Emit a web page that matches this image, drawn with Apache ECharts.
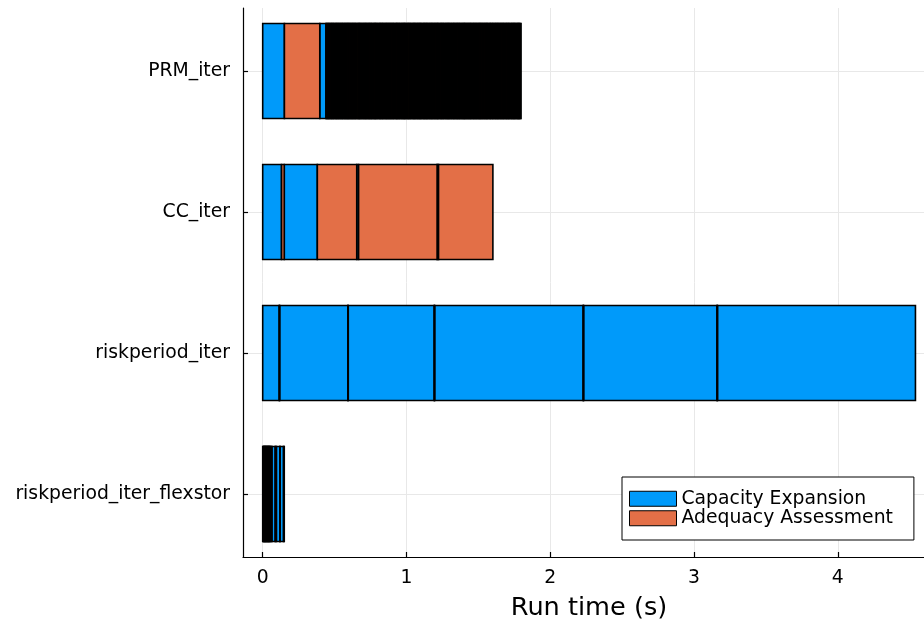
<!DOCTYPE html>
<html>
<head>
<meta charset="utf-8">
<script src="https://cdn.jsdelivr.net/npm/echarts@6/dist/echarts.min.js"></script>
<style>html,body{margin:0;padding:0;background:#fff}#chart{width:924px;height:623px}</style>
</head>
<body>
<div id="chart"></div>
<script>
// Categories (bottom to top, y = 1..4)
const categories = ['riskperiod_iter_flexstor', 'riskperiod_iter', 'CC_iter', 'PRM_iter'];
const seriesNames = ['Capacity Expansion', 'Adequacy Assessment'];
const xTickValues = [0, 1, 2, 3, 4];
const yTickValues = [1, 2, 3, 4];

// Segment durations (s) in run order; segments alternate
// Capacity Expansion, Adequacy Assessment, Capacity Expansion, ...
const flexstorDurations = [
  0.005, 0.004, 0.006, 0.004, 0.005, 0.005, 0.006, 0.004, 0.005, 0.005, 0.006, 0.009,
  0.023, 0.008, 0.024, 0.002, 0.024, 0.005
];
const riskperiodDurations = [0.115, 0.003, 0.474, 0.003, 0.598, 0.003, 1.033, 0.003, 0.928, 0.003, 1.377];
const ccDurations = [0.131, 0.019, 0.230, 0.274, 0.013, 0.546, 0.010, 0.378];
const prmDurations = [
  0.151, 0.246, 0.043,
  0.008, 0.009, 0.007, 0.010, 0.008, 0.009, 0.008, 0.009, 0.008, 0.009,
  0.009, 0.008, 0.009, 0.008, 0.010, 0.007, 0.009, 0.008, 0.008, 0.009,
  0.008, 0.008, 0.009, 0.009, 0.008, 0.010, 0.008, 0.007, 0.009, 0.009,
  0.009, 0.009, 0.008, 0.008, 0.009, 0.008, 0.009, 0.008, 0.009, 0.008,
  0.007, 0.009, 0.010, 0.008, 0.008, 0.009, 0.008, 0.009, 0.009, 0.008,
  0.009, 0.008, 0.008, 0.009, 0.009, 0.008, 0.010, 0.007, 0.008, 0.009,
  0.008, 0.009, 0.009, 0.008, 0.007, 0.009, 0.009, 0.008, 0.009, 0.009,
  0.010, 0.008, 0.008, 0.009, 0.008, 0.009, 0.008, 0.008, 0.009, 0.008,
  0.008, 0.009, 0.008, 0.008, 0.009, 0.009, 0.008, 0.009, 0.008, 0.009,
  0.009, 0.007, 0.009, 0.009, 0.008, 0.009, 0.008, 0.009, 0.009, 0.008,
  0.008, 0.008, 0.009, 0.010, 0.008, 0.008, 0.009, 0.008, 0.009, 0.008,
  0.009, 0.009, 0.008, 0.007, 0.009, 0.008, 0.009, 0.009, 0.008, 0.009,
  0.008, 0.009, 0.009, 0.008, 0.009, 0.008, 0.008, 0.009, 0.008, 0.009,
  0.009, 0.008, 0.008, 0.009, 0.007, 0.010, 0.008, 0.009, 0.008, 0.009,
  0.008, 0.009, 0.008, 0.009, 0.009, 0.008, 0.009, 0.008, 0.009, 0.008,
  0.009, 0.008, 0.009, 0.008, 0.008, 0.009, 0.008, 0.007, 0.008, 0.008
];

const runs = [flexstorDurations, riskperiodDurations, ccDurations, prmDurations];

const COLORS = ['#009AFA', '#E36F47'];
const FONT = 'DejaVu Sans';
const TICK_FS = 18.8;

// Build [start, end, y] items for each series
const segData = [[], []];
runs.forEach((durs, k) => {
  let t = 0;
  durs.forEach((d, i) => {
    segData[i % 2].push([t, t + d, k + 1]);
    t += d;
  });
});

function renderSeg(color) {
  return function (params, api) {
    const p0 = api.coord([api.value(0), api.value(2)]);
    const p1 = api.coord([api.value(1), api.value(2)]);
    const h = api.size([0, 0.674])[1];
    return {
      type: 'rect',
      shape: { x: p0[0], y: p0[1] - h / 2, width: p1[0] - p0[0], height: h },
      style: { fill: color, stroke: '#000', lineWidth: 1.6 }
    };
  };
}

const chart = echarts.init(document.getElementById('chart'), null, { renderer: 'canvas' });
chart.setOption({
  animation: false,
  backgroundColor: '#ffffff',
  textStyle: { fontFamily: FONT },
  grid: { left: 243, top: 8, width: 692, height: 549, containLabel: false, outerBoundsMode: 'none' },
  legend: {
    orient: 'vertical',
    left: 622,
    top: 477,
    padding: [12, 21, 12, 7],
    itemWidth: 47,
    itemHeight: 15,
    itemGap: 0,
    itemTextGap: 7,
    icon: 'rect',
    backgroundColor: '#fff',
    borderColor: '#000',
    borderWidth: 1,
    borderRadius: 0,
    textStyle: { fontFamily: FONT, fontSize: TICK_FS, color: '#000', lineHeight: 19.5 },
    data: seriesNames.map((n, i) => ({
      name: n,
      itemStyle: { color: COLORS[i], borderColor: '#000', borderWidth: 1 }
    }))
  },
  xAxis: {
    type: 'value',
    min: -0.137,
    max: 4.676,
    name: 'Run time (s)',
    nameLocation: 'middle',
    nameGap: 38,
    nameTextStyle: { fontFamily: FONT, fontSize: 25.6, color: '#000' },
    axisLine: { show: true, onZero: false, lineStyle: { color: '#000', width: 1.2 } },
    axisTick: { show: true, inside: true, length: 5, customValues: xTickValues, lineStyle: { color: '#000', width: 1.2 } },
    axisLabel: { customValues: xTickValues, fontFamily: FONT, fontSize: TICK_FS, color: '#000', margin: 12 },
    splitLine: { show: true, lineStyle: { color: '#e8e8e8', width: 1 } }
  },
  yAxis: {
    type: 'value',
    min: 0.553,
    max: 4.447,
    axisLine: { show: true, onZero: false, lineStyle: { color: '#000', width: 1.2 } },
    axisTick: { show: true, inside: true, length: 5, customValues: yTickValues, lineStyle: { color: '#000', width: 1.2 } },
    axisLabel: {
      customValues: yTickValues,
      formatter: v => categories[Math.round(v) - 1] || '',
      fontFamily: FONT, fontSize: TICK_FS, color: '#000', margin: 13
    },
    splitLine: { show: true, lineStyle: { color: '#e8e8e8', width: 1 } }
  },
  series: seriesNames.map((n, i) => ({
    name: n,
    type: 'custom',
    renderItem: renderSeg(COLORS[i]),
    encode: { x: [0, 1], y: 2 },
    itemStyle: { color: COLORS[i], borderColor: '#000', borderWidth: 1 },
    data: segData[i],
    z: 2
  }))
});
</script>
</body>
</html>
